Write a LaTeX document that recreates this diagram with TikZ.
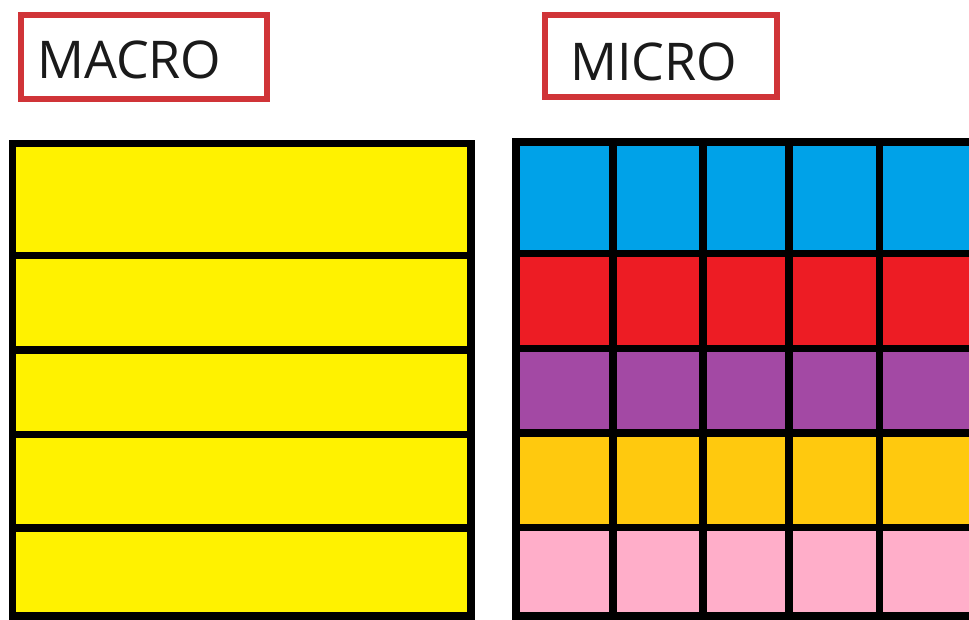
\documentclass[tikz,border=0pt]{standalone}
\usepackage{fontspec}
\setmainfont{Open Sans}
\definecolor{boxred}{RGB}{208,52,56}
\definecolor{txt}{RGB}{26,26,26}
\definecolor{cyellow}{RGB}{255,242,0}
\definecolor{cblue}{RGB}{0,162,232}
\definecolor{cred}{RGB}{237,28,36}
\definecolor{cpurple}{RGB}{163,73,164}
\definecolor{corange}{RGB}{255,201,14}
\definecolor{cpink}{RGB}{255,174,201}
\begin{document}
\begin{tikzpicture}[x=1pt,y=-1pt,
  labelbox/.style={draw=boxred,line width=6pt,line join=miter},
  labeltext/.style={anchor=base west,inner sep=0pt,text=txt,font=\fontsize{52}{62}\selectfont},
  gridline/.style={draw=black,line width=7.5pt,line join=miter}]
\useasboundingbox (0,0) rectangle (969,619);
\clip (0,0) rectangle (969,619);
\fill[white] (0,0) rectangle (969,619);
% labels
\draw[labelbox] (20.5,15) rectangle (266.5,98.5);
\node[labeltext] (macro) at (37,78.5) {MACRO};
\draw[labelbox] (544.5,15) rectangle (777,96.5);
\node[labeltext] (micro) at (570,80.5) {MICRO};
% macro grid
\fill[cyellow] (12.5,143.5) rectangle (471,616);
\foreach \y in {255.5,350,434.5,528}
  \draw[gridline] (12.5,\y) -- (471,\y);
\draw[gridline] (12.5,143.5) rectangle (471,616);
% micro grid
\fill[cblue]   (516,142)   rectangle (1000,253.5);
\fill[cred]    (516,253.5) rectangle (1000,348.5);
\fill[cpurple] (516,348.5) rectangle (1000,433);
\fill[corange] (516,433)   rectangle (1000,527.5);
\fill[cpink]   (516,527.5) rectangle (1000,616);
\foreach \y in {253.5,348.5,433,527.5}
  \draw[gridline] (516,\y) -- (1000,\y);
\foreach \x in {613,703,789,879.5}
  \draw[gridline] (\x,142) -- (\x,616);
\draw[gridline] (1000,142) -- (516,142) -- (516,616) -- (1000,616);
\end{tikzpicture}
\end{document}
